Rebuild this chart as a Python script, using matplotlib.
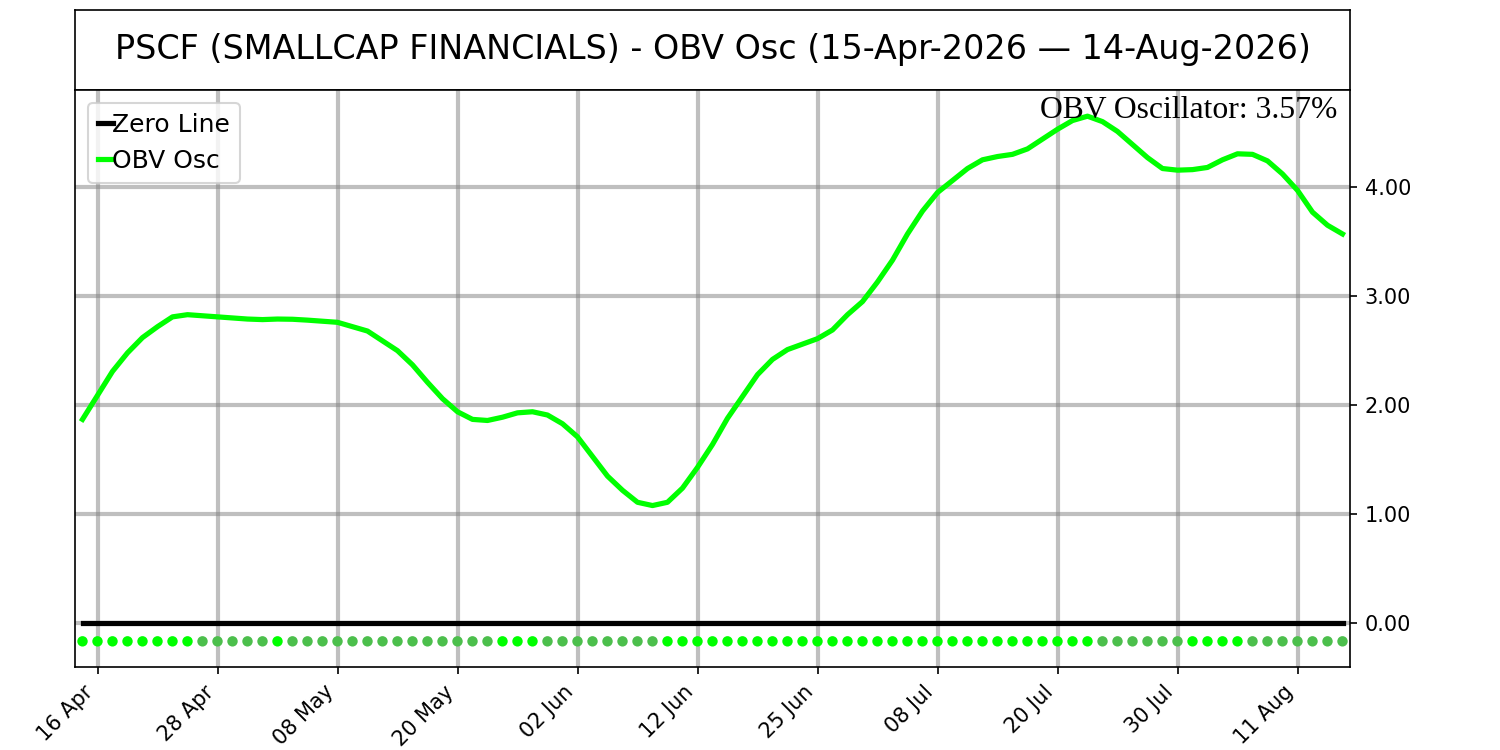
import numpy as np
import matplotlib
matplotlib.use("Agg")
import matplotlib.pyplot as plt

# OBV oscillator, one value per trading day (15 Apr 2026 .. 14 Aug 2026)
obv_osc = [1.87, 2.09, 2.31, 2.48, 2.62, 2.72, 2.81, 2.83, 2.82, 2.81,
           2.80, 2.79, 2.785, 2.79, 2.788, 2.78, 2.77, 2.76, 2.72, 2.68,
           2.59, 2.50, 2.37, 2.21, 2.06, 1.94, 1.87, 1.86, 1.89, 1.93,
           1.94, 1.91, 1.83, 1.71, 1.53, 1.35, 1.22, 1.11, 1.08, 1.11,
           1.24, 1.43, 1.64, 1.88, 2.08, 2.28, 2.42, 2.51, 2.56, 2.61,
           2.69, 2.83, 2.95, 3.13, 3.33, 3.57, 3.78, 3.95, 4.06, 4.17,
           4.25, 4.28, 4.30, 4.35, 4.44, 4.53, 4.61, 4.65, 4.60, 4.51,
           4.39, 4.27, 4.17, 4.155, 4.16, 4.18, 4.25, 4.305, 4.30, 4.24,
           4.12, 3.97, 3.77, 3.65, 3.57]

tick_labels = ["16 Apr", "28 Apr", "08 May", "20 May", "02 Jun", "12 Jun",
               "25 Jun", "08 Jul", "20 Jul", "30 Jul", "11 Aug"]
y_ticks = [0, 1, 2, 3, 4]
dot_level = -0.165

title = "PSCF (SMALLCAP FINANCIALS) - OBV Osc (15-Apr-2026 \u2014 14-Aug-2026)"

x = np.arange(len(obv_osc))
vals = np.array(obv_osc)
# green when rising, dull green when falling
diff = np.diff(vals, prepend=vals[0] - 1)
dot_colors = ["#00ff00" if d > 0 else "#4cbf4c" for d in diff]

fig = plt.figure(figsize=(10, 5), dpi=150)

# title box
tax = fig.add_axes([0.05, 0.88, 0.85, 0.1067])
tax.set_xticks([])
tax.set_yticks([])
tax.text(0.5, 0.5, title, ha="center", va="center", fontsize=16, transform=tax.transAxes)

ax = fig.add_axes([0.05, 0.1107, 0.85, 0.7693])
ax.plot(x, np.zeros(len(x)), color="black", lw=2.5, label="Zero Line", zorder=3)
ax.plot(x, vals, color="#00ff00", lw=2.5, label="OBV Osc", zorder=4)
ax.scatter(x, np.full(len(x), dot_level), c=dot_colors, s=25, zorder=3, linewidths=0)

tick_idx = list(range(1, len(x), 8))
ax.set_xticks(tick_idx)
ax.set_xticklabels(tick_labels, rotation=45, ha="right", fontsize=10)
ax.set_yticks(y_ticks)
ax.set_yticklabels(["%.2f" % v for v in y_ticks], fontsize=10)
ax.yaxis.tick_right()
ax.set_xlim(-0.5, len(x) - 0.5)
ax.set_ylim(-0.40, 4.89)
ax.grid(True, color="gray", alpha=0.5, lw=2)
ax.set_axisbelow(True)

ax.legend(loc="upper left", fontsize=12, handlelength=0.6, handletextpad=0.0)
ax.text(0.99, 0.99, "OBV Oscillator: %.2f%%" % vals[-1], transform=ax.transAxes,
        ha="right", va="top", fontsize=15.2, family="Liberation Serif", zorder=5)

fig.savefig("out.png", dpi=150)
